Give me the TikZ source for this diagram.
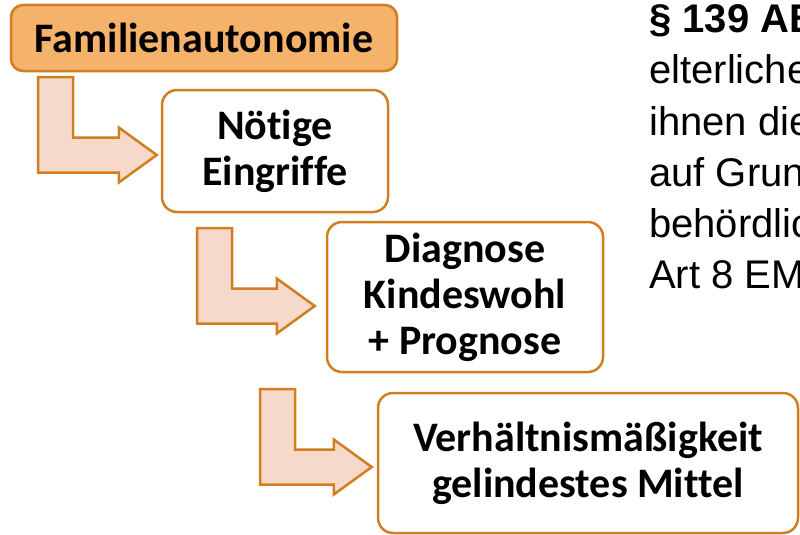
\documentclass[tikz,border=0pt]{standalone}
\usepackage{fontspec}
\setmainfont{Carlito}[Ligatures=NoCommon]
\newfontfamily\arialfont{Liberation Sans}
\usetikzlibrary{calc}

\definecolor{boxline}{RGB}{208,126,32}
\definecolor{topfill}{RGB}{244,178,106}
\definecolor{arrowfill}{RGB}{246,217,203}

% hollow bent arrow: #1 = top of the stem, #2 = tip
\newcommand{\bentarrow}[2]{%
  \draw[bent] let \p1=(#1), \p2=(#2) in
    (\x1-17.5pt,\y1) -- (\x1+17.5pt,\y1) -- (\x1+17.5pt,\y2+17.5pt)
    -- (\x2-38pt,\y2+17.5pt) -- (\x2-38pt,\y2+27.5pt) -- (\x2,\y2)
    -- (\x2-38pt,\y2-27.5pt) -- (\x2-38pt,\y2-17.5pt)
    -- (\x1-17.5pt,\y2-17.5pt) -- cycle;}

\begin{document}
\begin{tikzpicture}[x=1pt,y=-1pt]
        \tikzstyle{stage} = [draw=boxline,line width=2.5pt,rounded corners=15pt,fill=white,align=center,inner sep=0pt,font=\bfseries\fontsize{42}{46}\selectfont]
        \tikzstyle{bent} = [draw=boxline,line width=2.5pt,fill=arrowfill,line join=miter]
        \tikzstyle{law} = [anchor=base west,inner sep=0pt,font=\arialfont\fontsize{40}{44}\selectfont]

        \useasboundingbox (0,0) rectangle (800,535);

        \node[stage,fill=topfill,rounded corners=12pt,minimum width=386pt,minimum height=66pt] (fam) at (204,38) {Familienautonomie};
        \node[stage,minimum width=226pt,minimum height=122pt] (eingriff) at (275,151) {Nötige\\Eingriffe};
        \node[stage,minimum width=276pt,minimum height=150pt] (diag) at (465,297) {Diagnose\\Kindeswohl\\+ Prognose};
        \node[stage,minimum width=420pt,minimum height=140pt] (verh) at (588,463) {Verhältnismäßigkeit\\gelindestes Mittel};

        \coordinate (s1) at (55.5,77);
        \coordinate (s2) at (214.5,228);
        \coordinate (s3) at (277.5,389);
        \coordinate (t1) at ($(eingriff.west)+(-4,4)$);
        \coordinate (t2) at ($(diag.west)+(-11,9)$);
        \coordinate (t3) at ($(verh.west)+(-5,4)$);

        \bentarrow{s1}{t1}
        \bentarrow{s2}{t2}
        \bentarrow{s3}{t3}

        % text running off the right edge
        \begin{scope}
            \clip (0,0) rectangle (800,535);
            \node[law,font=\arialfont\bfseries\fontsize{40}{44}\selectfont] (par) at (649,33) {§ 139 ABGB};
            \foreach \t [count=\i] in {elterlichen,ihnen die,auf Grund,behördlich,Art 8 EMRK}
                \node[law] (law\i) at (649,33+51*\i) {\t};
        \end{scope}

    \end{tikzpicture}
\end{document}
